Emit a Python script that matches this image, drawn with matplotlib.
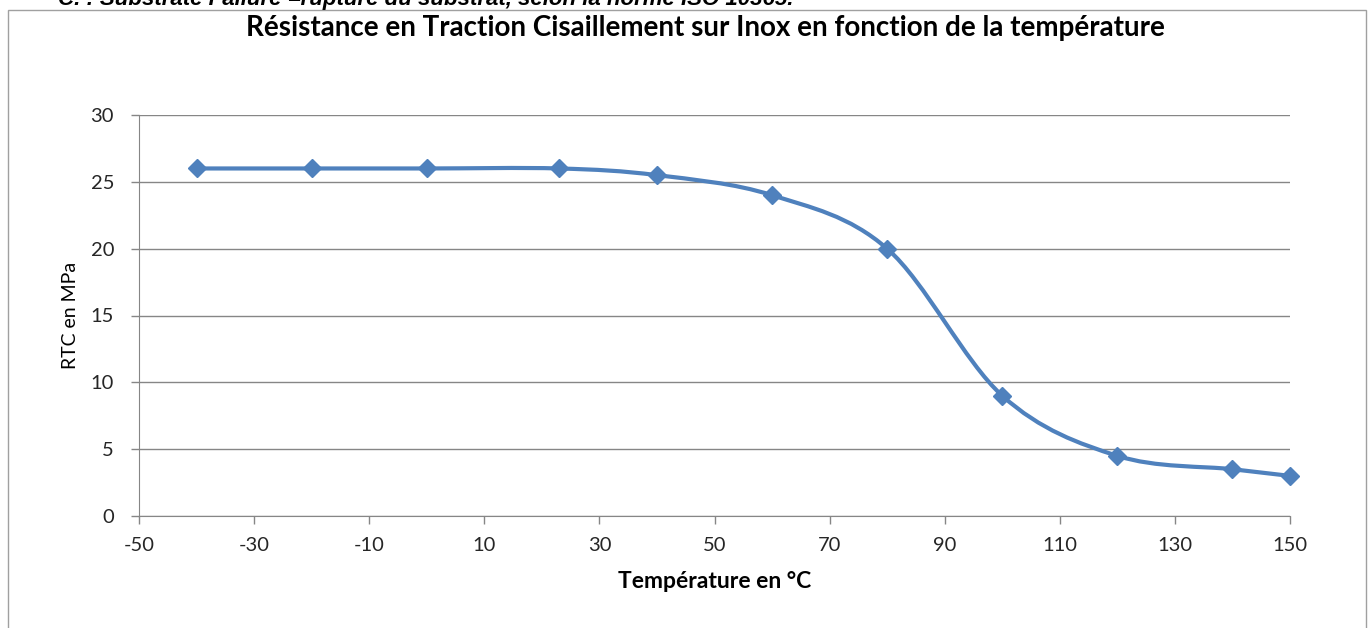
import numpy as np
import matplotlib
matplotlib.use('Agg')
from matplotlib import pyplot as plt
from matplotlib.path import Path
from matplotlib.patches import PathPatch, Rectangle

plt.rcParams['axes.unicode_minus'] = False

# donnees
temperature = [-40, -20, 0, 23, 40, 60, 80, 100, 120, 140, 150]
rtc = [26, 26, 26, 26, 25.5, 24, 20, 9, 4.5, 3.5, 3]
xticks = [-50, -30, -10, 10, 30, 50, 70, 90, 110, 130, 150]
yticks = [0, 5, 10, 15, 20, 25, 30]

bleu = '#4F81BD'
gris = '#868686'
police = 'Lato'

W, H = 1369, 628
fig = plt.figure(figsize=(W/100, H/100), dpi=100)
ax = fig.add_axes([139/W, 1-516/H, (1290-139)/W, (516-115)/H])

# courbe lissee facon Excel (bezier type Catmull-Rom)
x = np.array(temperature, float)
y = np.array(rtc, float)
verts = [(x[0], y[0])]
codes = [Path.MOVETO]
t = 1/6
for i in range(len(x)-1):
    x0, y0 = (x[i-1], y[i-1]) if i > 0 else (x[i], y[i])
    x3, y3 = (x[i+2], y[i+2]) if i+2 < len(x) else (x[i+1], y[i+1])
    c1 = (x[i] + t*(x[i+1]-x0), y[i] + t*(y[i+1]-y0))
    c2 = (x[i+1] - t*(x3-x[i]), y[i+1] - t*(y3-y[i]))
    verts += [c1, c2, (x[i+1], y[i+1])]
    codes += [Path.CURVE4]*3
ax.add_patch(PathPatch(Path(verts, codes), fill=False, edgecolor=bleu, lw=3, zorder=3))
ax.plot(temperature, rtc, ls='none', marker='D', ms=9.5, color=bleu, zorder=4, clip_on=False)

ax.set_xlim(-50, 150)
ax.set_ylim(0, 30)
ax.set_xticks(xticks)
ax.set_yticks(yticks)
ax.grid(axis='y', color=gris, lw=1)
ax.set_axisbelow(True)
for s in ['top', 'right']:
    ax.spines[s].set_visible(False)
for s in ['left', 'bottom']:
    ax.spines[s].set_color(gris)
ax.tick_params(colors=gris, length=6, width=1, labelcolor='#262626', labelsize=14.5)
for lab in ax.get_xticklabels() + ax.get_yticklabels():
    lab.set_family(police)
ax.tick_params(axis='y', pad=12)
ax.tick_params(axis='x', pad=9)

ax.set_xlabel('Température en °C', fontsize=16.5, fontweight='bold', family=police, labelpad=12)
ax.set_ylabel('RTC en MPa', fontsize=14, family=police, labelpad=8)

fig.text(705/W, 1-28/H, 'Résistance en Traction Cisaillement sur Inox en fonction de la température',
         ha='center', va='center', fontsize=20, fontweight='bold', family=police)

# bordure du graphique
fig.patches.append(Rectangle((8/W, -0.05), (1366-8)/W, 1.05-10/H, transform=fig.transFigure,
                             fill=False, edgecolor='#A0A0A0', lw=1))

# ligne de texte coupee au-dessus
fig.text(58/W, 1+1/H, 'C. : Substrate Failure =rupture du substrat, selon la norme ISO 10365.',
         ha='left', va='center', fontsize=16, fontweight='bold', style='italic',
         family='Liberation Sans')

fig.savefig('out.png', dpi=100)
